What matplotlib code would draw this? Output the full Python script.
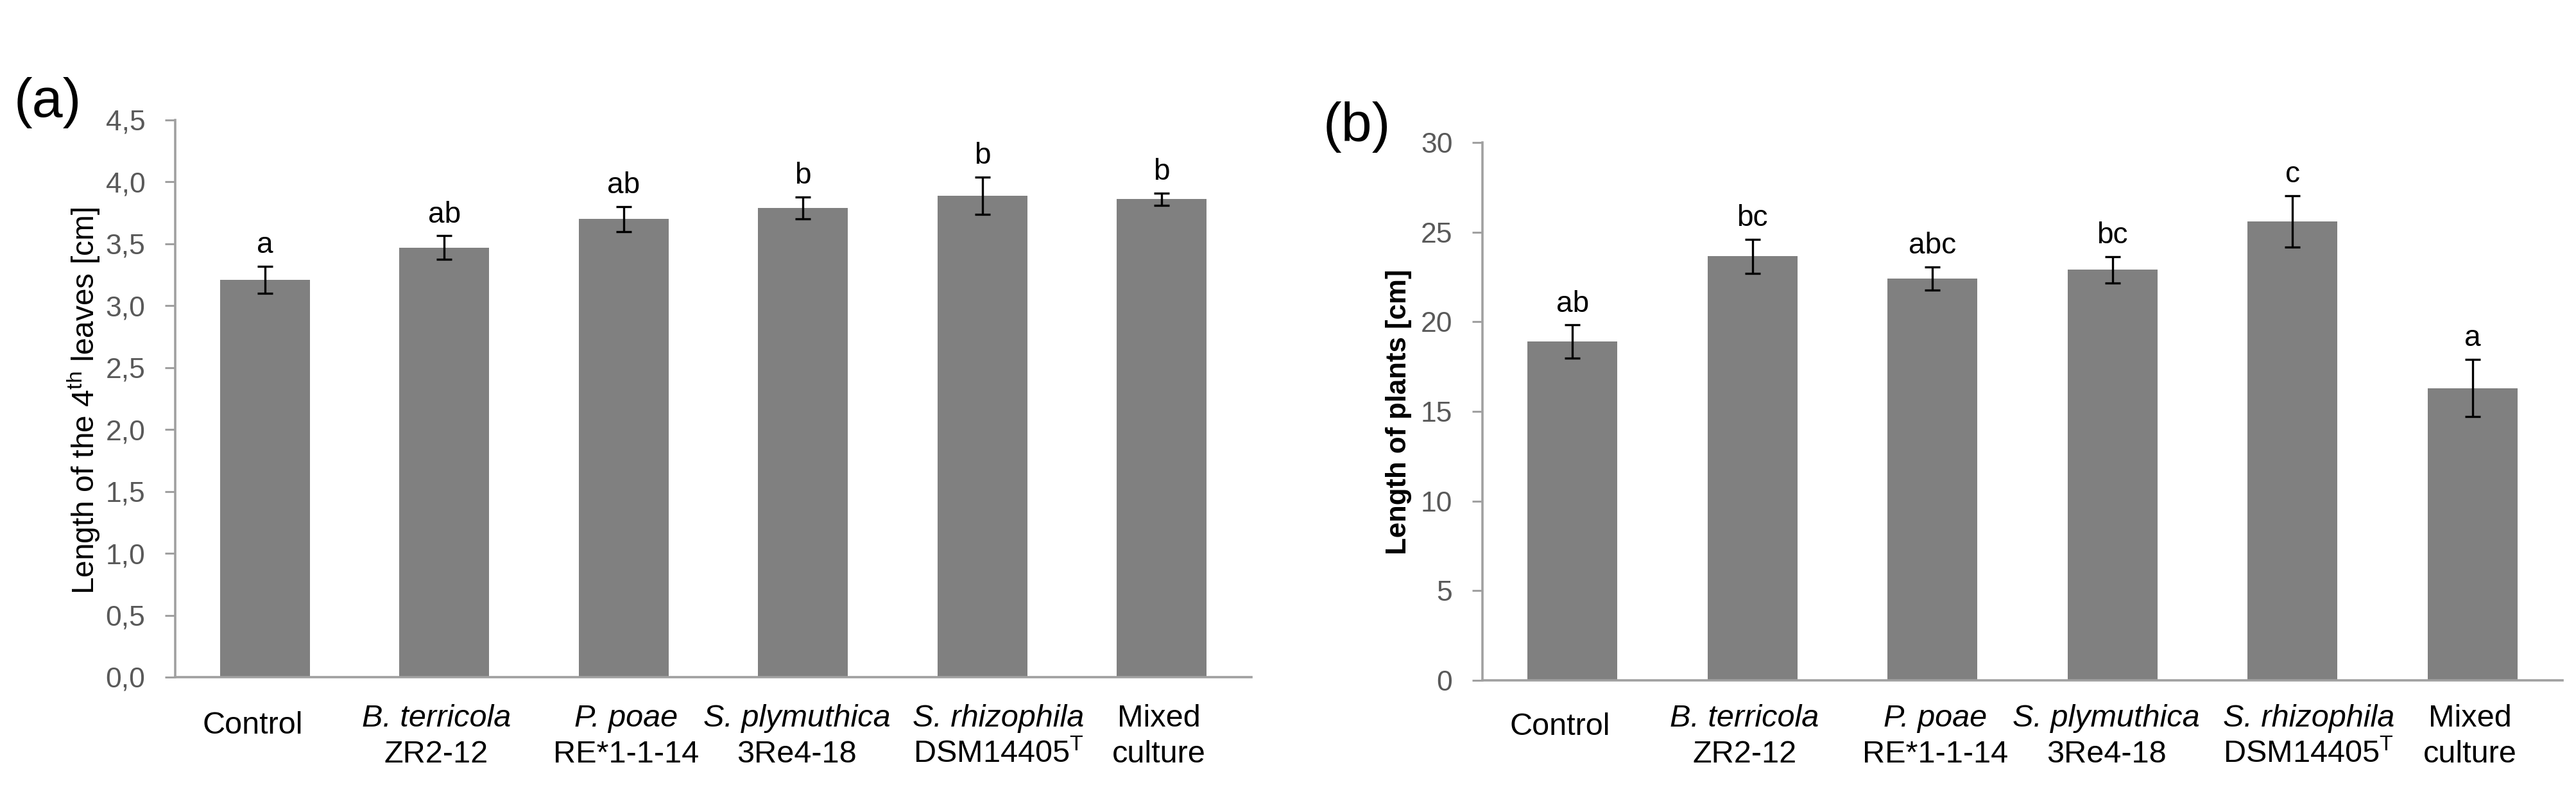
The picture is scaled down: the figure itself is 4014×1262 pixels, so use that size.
import matplotlib
matplotlib.use("Agg")
import matplotlib.pyplot as plt
import matplotlib.transforms as mtransforms
import numpy as np

plt.rcParams['font.family'] = ['Liberation Sans', 'DejaVu Sans']
plt.rcParams['mathtext.fontset'] = 'custom'
plt.rcParams['mathtext.rm'] = 'Liberation Sans'
plt.rcParams['mathtext.it'] = 'Liberation Sans:italic'
plt.rcParams['mathtext.bf'] = 'Liberation Sans:bold'

# ---------------- data ----------------
line1 = ["Control", "B. terricola", "P. poae", "S. plymuthica", "S. rhizophila", "Mixed"]
line2 = ["", "ZR2-12", "RE*1-1-14", "3Re4-18", r"DSM14405$^{\mathrm{T}}$", "culture"]
line1_italic = [False, True, True, True, True, False]

leaves_mean = [3.21, 3.47, 3.70, 3.79, 3.89, 3.86]
leaves_err = [0.11, 0.095, 0.10, 0.09, 0.15, 0.05]
leaves_letters = ["a", "ab", "ab", "b", "b", "b"]

plants_mean = [18.9, 23.65, 22.4, 22.9, 25.6, 16.3]
plants_err = [0.92, 0.95, 0.65, 0.73, 1.42, 1.6]
plants_letters = ["ab", "bc", "abc", "bc", "c", "a"]

a_ticks = [0.0, 0.5, 1.0, 1.5, 2.0, 2.5, 3.0, 3.5, 4.0, 4.5]
a_ticklabels = ["0,0", "0,5", "1,0", "1,5", "2,0", "2,5", "3,0", "3,5", "4,0", "4,5"]
b_ticks = [0, 5, 10, 15, 20, 25, 30]
b_ticklabels = ["0", "5", "10", "15", "20", "25", "30"]

# horizontal nudges of the category labels (points), as laid out in the original
label_nudge_pt = [-14, -9, 3, -7, 18, -3]

# ---------------- figure ----------------
W, H = 4014, 1262
DPI = 100
fig = plt.figure(figsize=(W / DPI, H / DPI), dpi=DPI)

BAR = '#808080'
AXC = '#A0A0A0'
TICKC = '#595959'


def fx(px):
    return px / W


def fy(py):
    return 1 - py / H


def panel(rect, means, errs, letters, ticks, ticklabels, ymax, ylabel, ylab_pos, ylab_weight,
          ylab_size, tag, tag_pos, lab_y):
    ax = fig.add_axes(rect)
    x = np.arange(len(means))
    ax.bar(x, means, width=0.5, color=BAR, edgecolor='none', zorder=2)
    ax.errorbar(x, means, yerr=errs, fmt='none', ecolor='black', elinewidth=2.4,
                capsize=8.3, capthick=2.4, zorder=3)
    for xi, m, e, l in zip(x, means, errs, letters):
        ax.annotate(l, (xi, m + e), xytext=(0, 15), textcoords='offset points',
                    ha='center', va='baseline', fontsize=33, color='black')
    ax.set_xlim(-0.5, len(means) - 0.5)
    ax.set_ylim(0, ymax)
    ax.set_yticks(ticks)
    ax.set_yticklabels(ticklabels, fontsize=32, color=TICKC)
    ax.tick_params(axis='y', direction='out', length=11.5, width=2.2, color=AXC, pad=22)
    ax.set_xticks([])
    for s in ['top', 'right']:
        ax.spines[s].set_visible(False)
    for s in ['left', 'bottom']:
        ax.spines[s].set_color(AXC)
        ax.spines[s].set_linewidth(2.6)
    # category labels
    tr = mtransforms.blended_transform_factory(ax.transData, fig.transFigure)
    for xi, l1, l2, it, nd in zip(x, line1, line2, line1_italic, label_nudge_pt):
        off = mtransforms.offset_copy(tr, fig=fig, x=nd, y=0, units='points')
        if l2 == "":
            ax.text(xi, fy(lab_y[2]), l1, transform=off, ha='center', va='baseline',
                    fontsize=35, style='italic' if it else 'normal')
        else:
            ax.text(xi, fy(lab_y[0]), l1, transform=off, ha='center', va='baseline',
                    fontsize=35, style='italic' if it else 'normal')
            ax.text(xi, fy(lab_y[1]), l2, transform=off, ha='center', va='baseline',
                    fontsize=35)
    fig.text(fx(ylab_pos[0]), fy(ylab_pos[1]), ylabel, rotation=90, ha='center', va='center',
             fontsize=ylab_size, fontweight=ylab_weight, color='black')
    fig.text(fx(tag_pos[0]), fy(tag_pos[1]), tag, ha='center', va='center', fontsize=62)
    return ax


# panel (a)
a_left, a_right, a_bot, a_top = 273, 1950, 1055, 187
panel([fx(a_left), fy(a_bot), fx(a_right - a_left), (a_bot - a_top) / H],
      leaves_mean, leaves_err, leaves_letters, a_ticks, a_ticklabels, 4.5,
      r"Length of the 4$^{\mathrm{th}}$ leaves [cm]", (131, 624), 'normal', 34.5,
      "(a)", (74, 160), (1132, 1188, 1143))

# panel (b)
b_left, b_right, b_bot, b_top = 2310, 3993, 1060, 222
panel([fx(b_left), fy(b_bot), fx(b_right - b_left), (b_bot - b_top) / H],
      plants_mean, plants_err, plants_letters, b_ticks, b_ticklabels, 30,
      "Length of plants [cm]", (2180, 642), 'bold', 31.5,
      "(b)", (2114, 198), (1132, 1188, 1145))

fig.savefig("out.png", dpi=DPI, facecolor='white')
